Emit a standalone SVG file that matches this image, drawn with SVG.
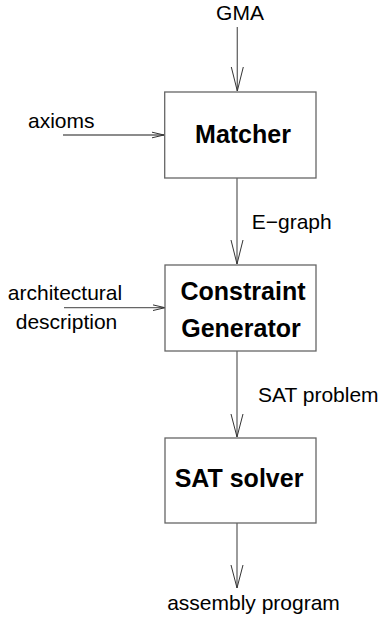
<svg xmlns="http://www.w3.org/2000/svg" width="386" height="621" viewBox="0 0 386 621">
<style>
.box{fill:#fff;stroke:#666;stroke-width:1.3}
.ln{fill:none;stroke:#666;stroke-width:1.3}
.hd{fill:none;stroke:#333;stroke-width:1}
.t{font-family:"Liberation Sans",Arial,sans-serif;font-size:21px;fill:#000}
.b{font-family:"Liberation Sans",Arial,sans-serif;font-size:25px;font-weight:bold;fill:#000;text-anchor:middle}
</style>
<rect width="386" height="621" fill="#fff"/>
<g id="connectors">
<path class="ln" d="M237.3 27V91"/>
<path class="hd" d="M231.3 67L237.3 91L243.3 67"/>
<path class="ln" d="M63 135H164"/>
<path class="hd" d="M152 132.2L164 135L152 137.8"/>
<path class="ln" d="M237 178V264"/>
<path class="hd" d="M231 240L237 264L243 240"/>
<path class="ln" d="M64 307.7H165"/>
<path class="hd" d="M153 304.9L165 307.7L153 310.5"/>
<path class="ln" d="M237 351V437"/>
<path class="hd" d="M231 414L237 437L243 414"/>
<path class="ln" d="M237 523V588"/>
<path class="hd" d="M231 565L237 588L243 565"/>
<text class="t" x="240" y="20" text-anchor="middle">GMA</text>
<text class="t" x="28" y="128">axioms</text>
<text class="t" x="251.7" y="229">E−graph</text>
<text class="t" x="65" y="300" text-anchor="middle">architectural</text>
<text class="t" x="66.5" y="329" text-anchor="middle">description</text>
<text class="t" x="258" y="402">SAT problem</text>
<text class="t" x="253.5" y="610" text-anchor="middle">assembly program</text>
</g>
<g id="matcher">
<rect class="box" x="164.7" y="92" width="151.3" height="86"/>
<text class="b" x="243" y="143">Matcher</text>
</g>
<g id="constraint-generator">
<rect class="box" x="165" y="265" width="151" height="86"/>
<text class="b" x="243" y="300">Constraint</text>
<text class="b" x="241" y="337">Generator</text>
</g>
<g id="sat-solver">
<rect class="box" x="165" y="438" width="151" height="85"/>
<text class="b" x="239" y="487">SAT solver</text>
</g>
</svg>
